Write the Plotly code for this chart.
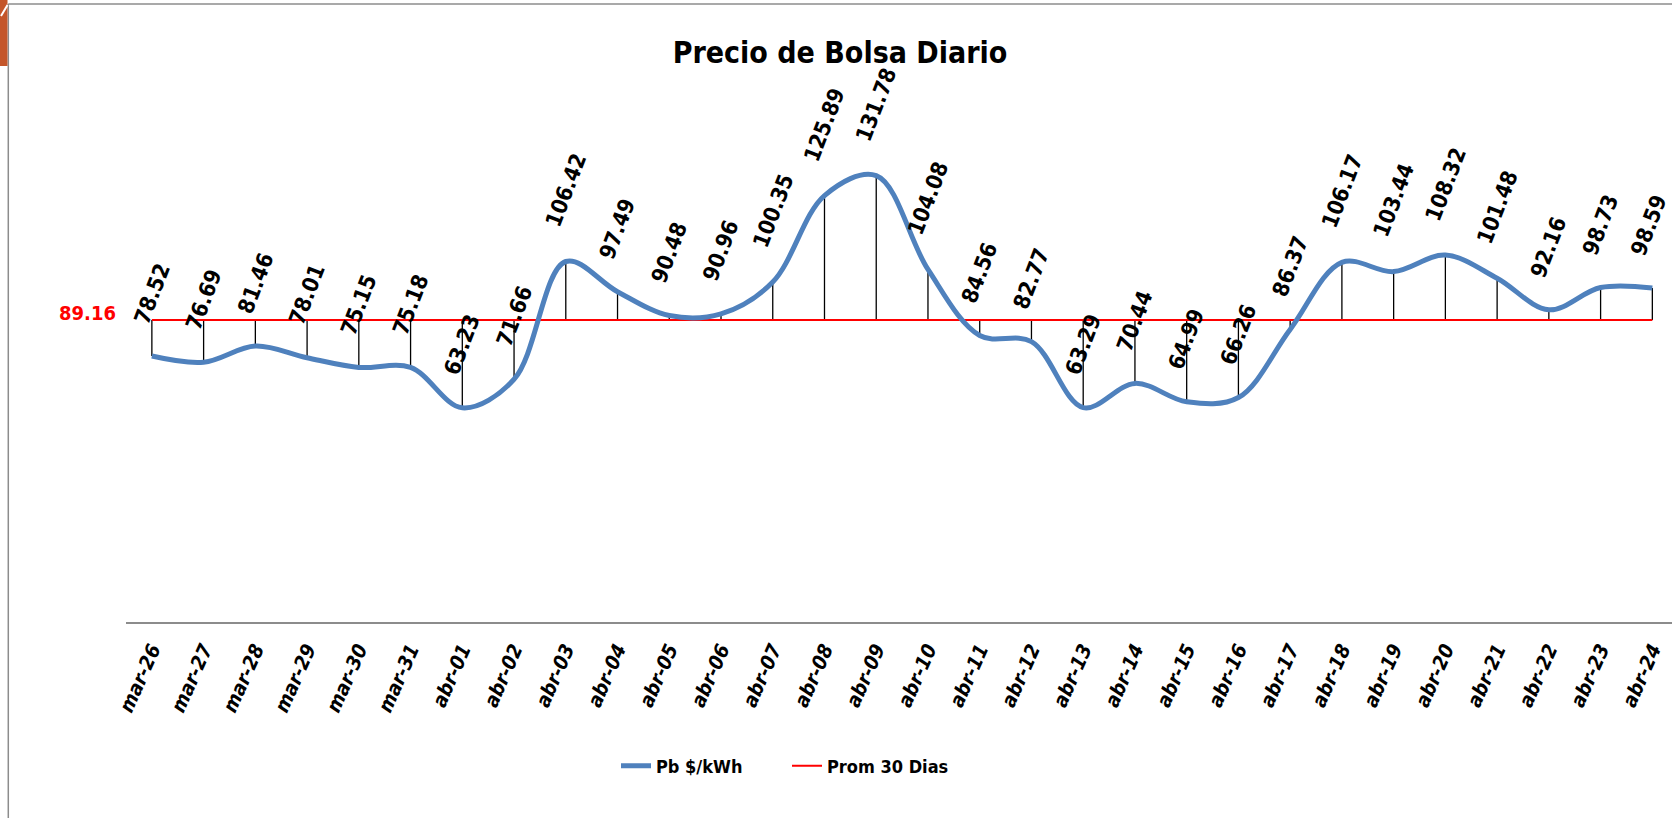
import plotly.graph_objects as go

# ---------------- data ----------------
categories = ["mar-26", "mar-27", "mar-28", "mar-29", "mar-30", "mar-31",
              "abr-01", "abr-02", "abr-03", "abr-04", "abr-05", "abr-06",
              "abr-07", "abr-08", "abr-09", "abr-10", "abr-11", "abr-12",
              "abr-13", "abr-14", "abr-15", "abr-16", "abr-17", "abr-18",
              "abr-19", "abr-20", "abr-21", "abr-22", "abr-23", "abr-24"]
pb_values = [78.52, 76.69, 81.46, 78.01, 75.15, 75.18,
             63.23, 71.66, 106.42, 97.49, 90.48, 90.96,
             100.35, 125.89, 131.78, 104.08, 84.56, 82.77,
             63.29, 70.44, 64.99, 66.26, 86.37, 106.17,
             103.44, 108.32, 101.48, 92.16, 98.73, 98.59]
prom_30 = 89.16
series_names = ["Pb $/kWh", "Prom 30 Dias"]
chart_title = "Precio de Bolsa Diario"

# ---------------- layout geometry ----------------
W, H = 1672, 818
ML, MR, MT, MB = 126, 0, 80, 196
PW, PH = W - ML - MR, H - MT - MB
NARROW = "DejaVu Sans Condensed, DejaVu Sans, sans-serif"
BLUE = "#4F81BD"
RED = "#FF0000"


def fx(px):
    return (px - ML) / PW


def fy(py):
    return (H - MB - py) / PH


prom_line = [prom_30] * len(categories)

# drop lines between the two series
drop_x, drop_y = [], []
for c, v in zip(categories, pb_values):
    drop_x += [c, c, None]
    drop_y += [v, prom_30, None]

fig = go.Figure()
fig.add_trace(go.Scatter(x=drop_x, y=drop_y, mode="lines",
                         line=dict(color="black", width=1.3),
                         showlegend=False, hoverinfo="skip"))
fig.add_trace(go.Scatter(x=categories, y=prom_line, mode="lines",
                         name=series_names[1], legendrank=2,
                         line=dict(color=RED, width=2)))
fig.add_trace(go.Scatter(x=categories, y=pb_values, mode="lines",
                         name=series_names[0], legendrank=1,
                         line=dict(color=BLUE, width=5, shape="spline", smoothing=1.0)))

annotations = []
n = len(categories)
for i, (c, v) in enumerate(zip(categories, pb_values)):
    txt = f"{v:.2f}"
    annotations.append(dict(x=c, y=v, text=txt, showarrow=False,
                            textangle=-69, xanchor="center", yanchor="middle",
                            yshift=63 if len(txt) <= 5 else 71,
                            xshift=-4 if i == n - 1 else 0,
                            font=dict(family=NARROW, size=22, color="black", weight="bold")))
annotations.append(dict(x=categories[0], y=prom_30, text=f"{prom_30:.2f}", showarrow=False,
                        xanchor="right", yanchor="middle", xshift=-34, yshift=7,
                        font=dict(family=NARROW, size=20, color=RED, weight="bold")))

shapes = [
    # chart border (left and top)
    dict(type="line", xref="paper", yref="paper", x0=fx(8.3), x1=fx(8.3), y0=fy(4), y1=fy(H + 5),
         line=dict(color="#8C8C8C", width=1.5)),
    dict(type="line", xref="paper", yref="paper", x0=fx(8.3), x1=fx(W + 5), y0=fy(4), y1=fy(4),
         line=dict(color="#8C8C8C", width=1.5)),
    # orange corner
    dict(type="rect", xref="paper", yref="paper", x0=fx(-2), x1=fx(7.5), y0=fy(-2), y1=fy(66),
         line=dict(width=0), fillcolor="#C4562A"),
    dict(type="line", xref="paper", yref="paper", x0=fx(1), x1=fx(7.5), y0=fy(16), y1=fy(5),
         line=dict(color="white", width=2)),
]

fig.update_layout(
    width=W, height=H, autosize=False,
    margin=dict(l=ML, r=MR, t=MT, b=MB, pad=0),
    paper_bgcolor="white", plot_bgcolor="white",
    title=dict(text=chart_title, xref="container", yref="container",
               x=840 / W, xanchor="center", y=1 - 52 / H, yanchor="middle",
               font=dict(family=NARROW, size=30, color="black", weight="bold")),
    xaxis=dict(type="category", range=[-0.5, 29.38], showgrid=False, zeroline=False,
               showline=True, linecolor="#8C8C8C", linewidth=2, ticks="",
               tickangle=-66, ticklabelstandoff=6,
               tickfont=dict(family=NARROW, size=20, color="black", weight="bold", style="italic")),
    yaxis=dict(range=[0, 160], showgrid=False, zeroline=False, showline=False,
               showticklabels=False, ticks=""),
    legend=dict(orientation="h", xref="container", yref="container",
                x=616 / W, xanchor="left", y=(H - 766) / H, yanchor="middle",
                font=dict(family=NARROW, size=18, color="black", weight="bold"),
                entrywidth=126, entrywidthmode="pixels", bgcolor="rgba(0,0,0,0)"),
    annotations=annotations,
    shapes=shapes,
    hovermode=False,
)

fig.write_html("out.html", config={"displayModeBar": False},
               post_script="document.body.style.margin='0px';")
